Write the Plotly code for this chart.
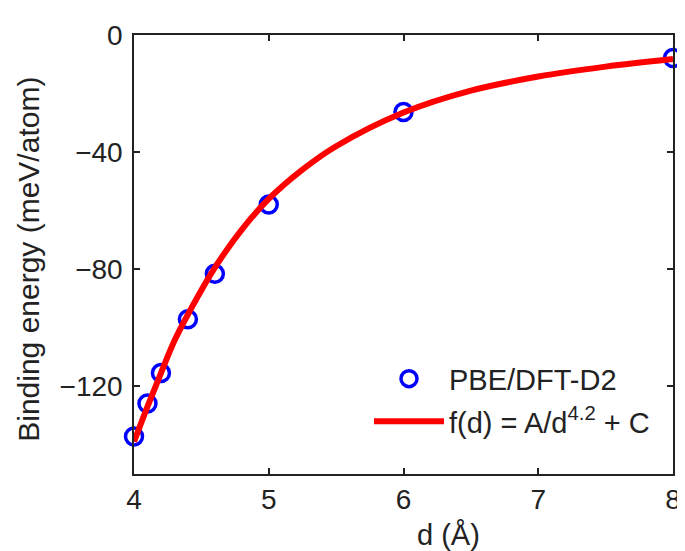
import plotly.graph_objects as go

# PBE/DFT-D2 points
d_dft = [4.0, 4.1, 4.2, 4.4, 4.6, 5.0, 6.0, 8.0]
e_dft = [-137.2, -125.9, -115.5, -97.1, -81.6, -57.9, -26.3, -7.9]

# fitted curve f(d) = A/d^4.2 + C
d_fit = [4.0, 4.1, 4.2, 4.3, 4.4, 4.6, 4.8, 5.0, 5.25, 5.5, 6.0, 6.5, 7.0, 7.5, 8.0]
e_fit = [-139, -127, -115.5, -104.5, -95.5, -79.5, -66.5, -56, -46, -38, -26.5, -19, -14.2, -10.8, -8.2]

x_ticks = [4, 5, 6, 7, 8]
y_ticks = [0, -40, -80, -120]

font = "Liberation Sans, Arial, Helvetica, sans-serif"
ink = "#222222"

fig = go.Figure()
fig.add_trace(go.Scatter(
    x=d_dft, y=e_dft, mode="markers", name="PBE/DFT-D2",
    marker=dict(symbol="circle-open", size=17, color="#0000ff", line=dict(width=3.5, color="#0000ff")),
    cliponaxis=False, legendgroup="a",
))
fig.add_trace(go.Scatter(
    x=d_fit, y=e_fit, mode="lines", name="f(d) = A/d<sup>4.2</sup> + C",
    line=dict(color="#ff0000", width=6, shape="spline"),
    legendgroup="b",
))

axis_common = dict(
    showline=True, linecolor=ink, linewidth=1.5, mirror="ticks",
    ticks="inside", ticklen=6, tickcolor=ink, tickwidth=1.5,
    showgrid=False, zeroline=False,
    tickfont=dict(family=font, size=28, color=ink),
)
fig.update_xaxes(range=[4, 8], tickvals=x_ticks, ticktext=[str(v) for v in x_ticks], **axis_common)
fig.update_yaxes(range=[-150, 0], tickvals=y_ticks, ticklabelstandoff=4, **axis_common)

fig.add_annotation(text="d (Å)", xref="paper", yref="paper", x=0.583, y=-0.138,
                   showarrow=False, font=dict(family=font, size=29, color=ink),
                   xanchor="center", yanchor="middle")
fig.add_annotation(text="Binding energy (meV/atom)", xref="paper", yref="paper", x=-0.195, y=0.49,
                   showarrow=False, textangle=-90, font=dict(family=font, size=30, color=ink),
                   xanchor="center", yanchor="middle")

fig.update_layout(
    width=685, height=551,
    margin=dict(l=126, r=19, t=17, b=85),
    plot_bgcolor="white", paper_bgcolor="white",
    font=dict(family=font, color=ink),
    legend=dict(x=0.436, y=0.275, xanchor="left", yanchor="top",
                font=dict(family=font, size=29, color=ink),
                bgcolor="rgba(0,0,0,0)", itemwidth=70, itemsizing="trace",
                traceorder="grouped", tracegroupgap=2),
)

fig.write_html("out.html")
